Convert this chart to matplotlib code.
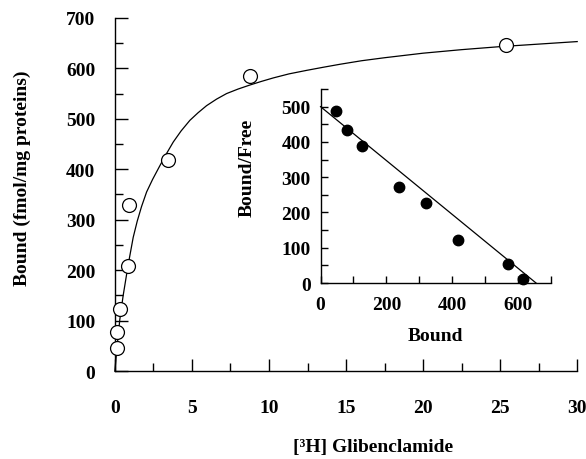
import matplotlib
matplotlib.use("Agg")
import matplotlib.pyplot as plt
from matplotlib.ticker import MultipleLocator

plt.rcParams['font.family'] = ['Liberation Serif', 'DejaVu Serif']
plt.rcParams['font.weight'] = 'bold'

# saturation binding: [3H] glibenclamide vs bound
conc = [0.11, 0.17, 0.32, 0.87, 0.91, 3.46, 8.8, 25.4]
bound = [45, 78, 123, 209, 329, 418, 584, 647]

# fitted curve
curve_x = [0, 0.15, 0.32, 0.54, 0.86, 1.19, 1.45, 1.73, 2.06, 2.45, 2.92,
           3.35, 3.79, 4.3, 4.87, 5.4, 5.95, 6.6, 7.25, 8.0, 8.77, 9.5,
           10.28, 11.3, 12.45, 13.5, 14.6, 16.0, 17.5, 20.0, 22.5, 25.0,
           27.5, 30.0]
curve_y = [0, 50, 102, 150, 210, 265, 297, 326, 355, 380, 407,
           431, 454, 476, 497, 512, 526, 539, 550, 559, 567, 574,
           581, 589, 596, 602, 608, 615, 621, 630, 637, 643,
           648, 653]

# Scatchard inset
sc_bound = [47, 79, 125, 237, 320, 418, 570, 614]
sc_ratio = [489, 435, 389, 271, 227, 122, 53, 11]
fit_x = [0, 655]
fit_y = [500, 0]

fig = plt.figure(figsize=(5.86, 4.6), dpi=100)
ax = fig.add_axes([0.196, 0.191, 0.789, 0.768])

ax.plot(curve_x, curve_y, color='black', lw=0.9, clip_on=False)
ax.plot(conc, bound, 'o', ms=10, mfc='white', mec='black', mew=0.9, clip_on=False, zorder=3)

ax.set_xlim(0, 30)
ax.set_ylim(0, 700)
ax.xaxis.set_major_locator(MultipleLocator(5))
ax.xaxis.set_minor_locator(MultipleLocator(2.5))
ax.yaxis.set_major_locator(MultipleLocator(100))
ax.yaxis.set_minor_locator(MultipleLocator(50))
for s in ['top', 'right']:
    ax.spines[s].set_visible(False)
for s in ['left', 'bottom']:
    ax.spines[s].set_linewidth(1.0)
ax.tick_params(which='major', direction='in', length=9, width=1.0, labelsize=14)
ax.tick_params(which='minor', direction='in', length=6, width=1.0)
ax.tick_params(axis='x', which='major', pad=20)
ax.tick_params(axis='y', which='major', pad=14)

fig.text(0.0375, 0.613, 'Bound (fmol/mg proteins)', rotation=90, fontsize=14,
         fontweight='bold', ha='center', va='center')
fig.text(373 / 586, 0.028, '[³H] Glibenclamide', fontsize=14,
         fontweight='bold', ha='center', va='center')

# inset
ins = fig.add_axes([0.547, 0.3826, 0.393, 0.4217])
ins.patch.set_alpha(0)
ins.plot(fit_x, fit_y, color='black', lw=0.9, clip_on=False)
ins.plot(sc_bound, sc_ratio, 'o', ms=7.5, color='black', clip_on=False, zorder=3)
ins.set_xlim(0, 700)
ins.set_ylim(0, 550)
ins.xaxis.set_major_locator(MultipleLocator(200))
ins.xaxis.set_minor_locator(MultipleLocator(100))
ins.yaxis.set_major_locator(MultipleLocator(100))
ins.yaxis.set_minor_locator(MultipleLocator(50))
for s in ['top', 'right']:
    ins.spines[s].set_visible(False)
for s in ['left', 'bottom']:
    ins.spines[s].set_linewidth(1.0)
ins.tick_params(which='both', direction='in', length=5, width=1.0, labelsize=14)
ins.tick_params(axis='x', which='major', pad=9)
ins.tick_params(axis='y', which='major', pad=7)

fig.text(246.7 / 586, 0.635, 'Bound/Free', rotation=90, fontsize=14,
         fontweight='bold', ha='center', va='center')
fig.text(435 / 586, 1 - 337 / 460, 'Bound', fontsize=14,
         fontweight='bold', ha='center', va='center')

fig.savefig('out.png', dpi=100)
